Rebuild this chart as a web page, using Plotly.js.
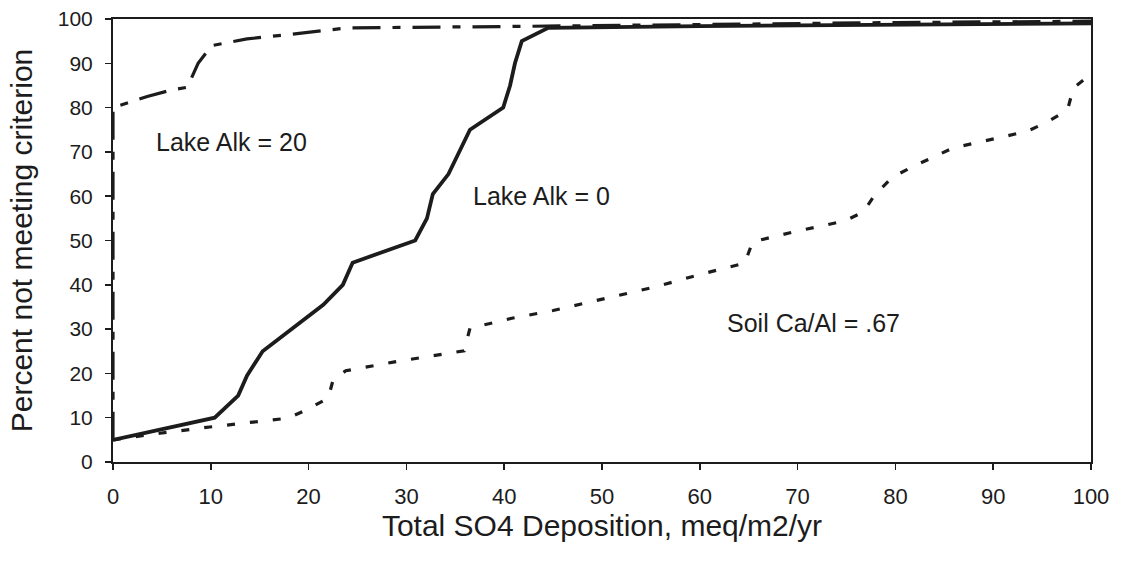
<!DOCTYPE html>
<html>
<head>
<meta charset="utf-8">
<script src="https://cdn.plot.ly/plotly-3.0.1.min.js"></script>
<style>html,body{margin:0;padding:0;background:#fff;}#chart{width:1123px;height:563px;}</style>
</head>
<body>
<div id="chart"></div>
<script>
// Lake Alk = 20 (long dash - short dash)
const alk20X = [0, 0, 3.5, 6, 7.6, 8.7, 10.1, 13.7, 18, 21, 24, 40, 60, 80, 100];
const alk20Y = [5, 80, 82.5, 84, 84.6, 90, 94, 95.5, 96.5, 97.2, 98, 98.3, 98.8, 99.2, 99.5];

// Lake Alk = 0 (solid)
const alk0X = [0, 10.4, 12.8, 13.7, 15.3, 19.1, 21.5, 23.5, 24.5, 30.9, 32.1, 32.7, 34.3, 36.5, 39.9, 40.6, 41.1, 41.8, 44.5, 60, 80, 100];
const alk0Y = [5, 10, 15, 19.5, 25, 31.5, 35.5, 40, 45, 50, 55, 60.5, 65, 75, 80, 85, 90, 95, 98, 98.4, 98.7, 99];

// Soil Ca/Al = .67 (short dash)
const soilX = [0, 4.8, 9.9, 15.3, 17.9, 19.8, 22, 22.5, 23.8, 28.8, 33.6, 35.9, 36.5, 40.9, 45, 50.6, 55.4, 59.8, 64.6, 65.4, 69.9, 74.8, 76.7, 77.9, 79.7, 81.7, 85.9, 91, 93.5, 95.5, 97.6, 98.2, 99.8];
const soilY = [5, 6.5, 7.9, 9.2, 9.9, 11.8, 14.4, 18.5, 20.6, 22.6, 24.4, 25.1, 30.2, 32.5, 34.2, 37, 39.5, 42.2, 44.9, 49.7, 52.1, 54.4, 56.4, 60.3, 64.3, 66.6, 70.9, 73.4, 74.7, 76.7, 79.5, 84.4, 87.2];

const xTicks = [0, 10, 20, 30, 40, 50, 60, 70, 80, 90, 100];
const yTicks = [0, 10, 20, 30, 40, 50, 60, 70, 80, 90, 100];

const labelText = ["Lake Alk = 20", "Lake Alk = 0", "Soil Ca/Al = .67"];
const labelX = [12.1, 43.8, 71.6];
const labelY = [72.3, 60, 31.4];

const ink = "#1c1c1c";
const baseFont = "Liberation Sans, Arial, Helvetica, sans-serif";

const traces = [
  {x: alk20X, y: alk20Y, mode: "lines", line: {color: ink, width: 3.2, dash: "28px,12px,8px,12px"}, hoverinfo: "skip"},
  {x: soilX, y: soilY, mode: "lines", line: {color: ink, width: 3.2, dash: "8px,15px"}, hoverinfo: "skip"},
  {x: alk0X, y: alk0Y, mode: "lines", line: {color: ink, width: 3.8}, hoverinfo: "skip"}
];

const annotations = labelText.map((t, i) => ({
  x: labelX[i], y: labelY[i], xref: "x", yref: "y", text: t, showarrow: false,
  font: {family: baseFont, size: 25, color: ink},
  xanchor: "center", yanchor: "middle"
}));

const layout = {
  width: 1123, height: 563,
  margin: {l: 113, r: 32, t: 19, b: 101},
  paper_bgcolor: "#fff", plot_bgcolor: "#fff",
  showlegend: false,
  font: {family: baseFont, color: ink},
  xaxis: {
    range: [0, 100], tickvals: xTicks, ticktext: xTicks.map(String),
    ticks: "outside", ticklen: 6, tickwidth: 1.5, tickcolor: ink,
    showline: true, linecolor: ink, linewidth: 2, mirror: true,
    showgrid: false, zeroline: false,
    tickfont: {size: 22, color: ink}, ticklabelstandoff: 8,
    title: {text: "Total SO4 Deposition, meq/m2/yr", font: {size: 30, color: ink}, standoff: 3}
  },
  yaxis: {
    range: [0, 100], tickvals: yTicks, ticktext: yTicks.map(String),
    ticks: "outside", ticklen: 6, tickwidth: 1.5, tickcolor: ink,
    showline: true, linecolor: ink, linewidth: 2, mirror: true,
    showgrid: false, zeroline: false,
    tickfont: {size: 21, color: ink}, ticklabelstandoff: 8,
    title: {text: "Percent not meeting criterion", font: {size: 30, color: ink}, standoff: 16}
  },
  annotations: annotations
};

Plotly.newPlot("chart", traces, layout, {displayModeBar: false, staticPlot: true});
</script>
</body>
</html>
